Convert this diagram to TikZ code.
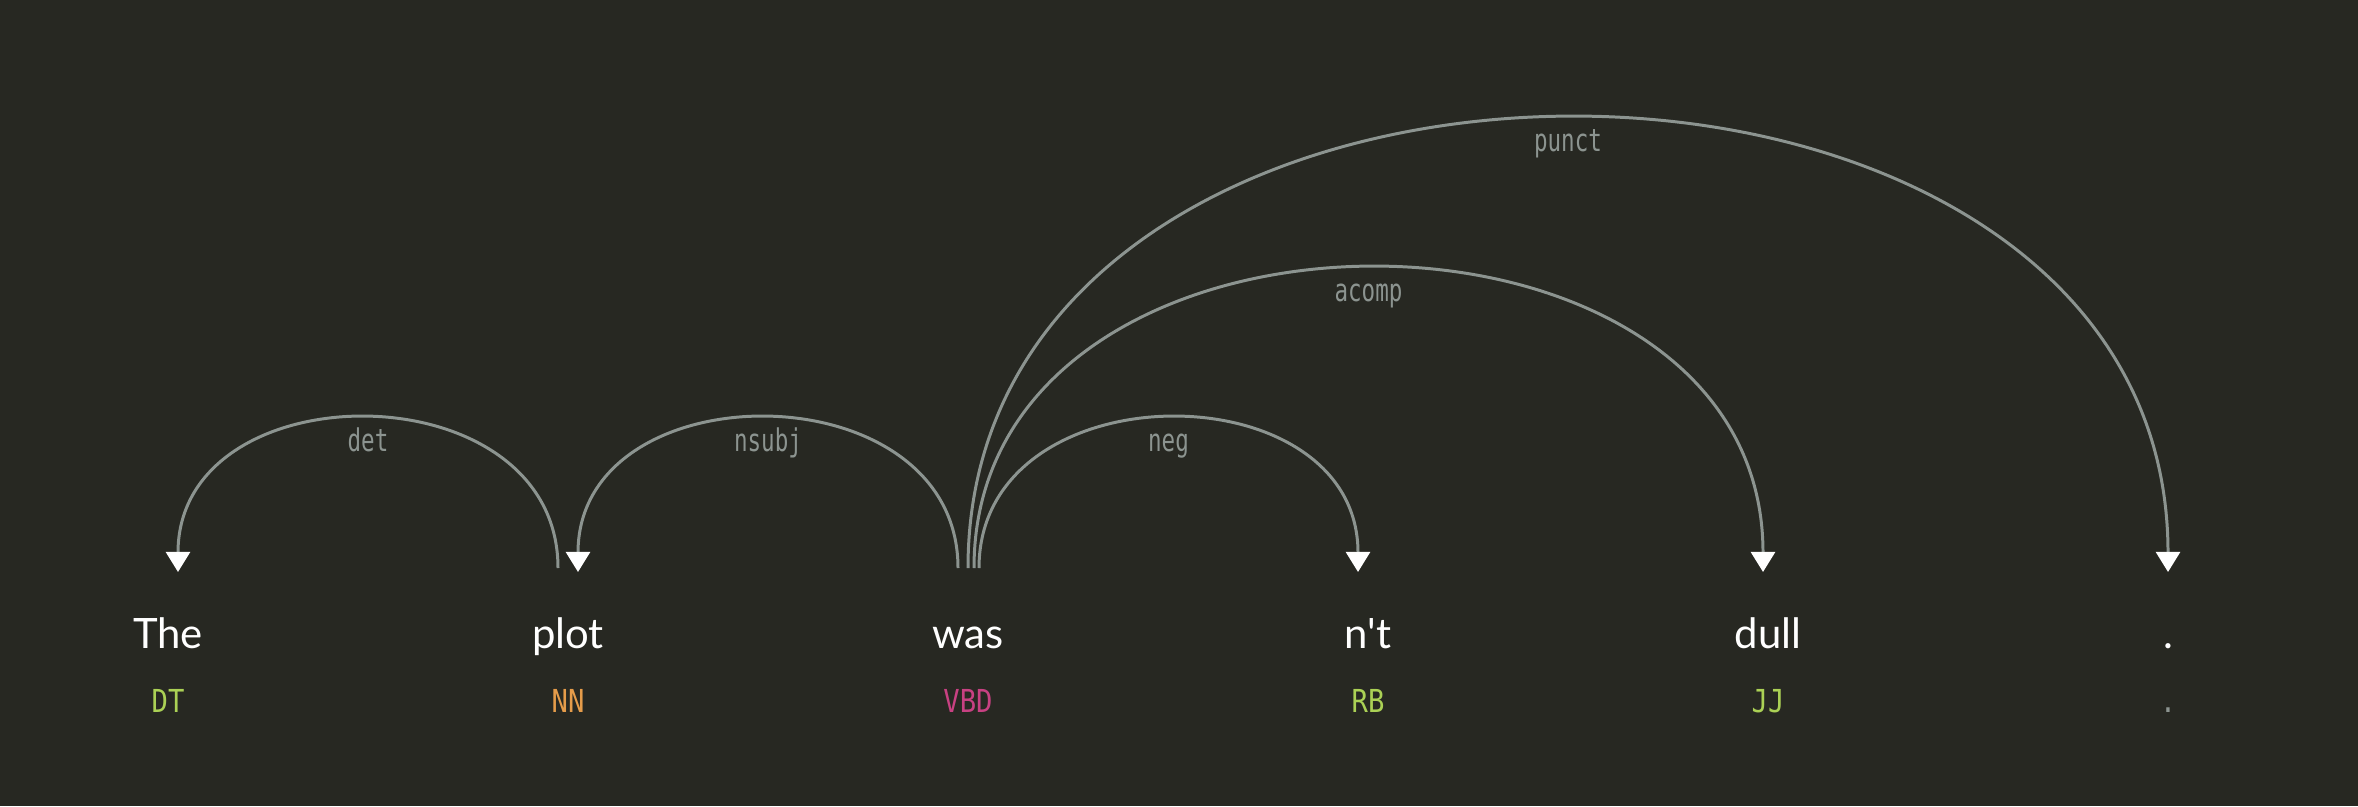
\documentclass[tikz,border=0pt]{standalone}
\usepackage{fontspec}
\newfontfamily\wordfont{Lato}
\newfontfamily\tagfont[FakeStretch=0.86]{DejaVu Sans Mono}
\newfontfamily\lblfont[FakeStretch=0.72]{DejaVu Sans Mono}
\usetikzlibrary{arrows.meta, calc}
\definecolor{bg}{HTML}{272822}
\definecolor{arccol}{HTML}{8C9490}
\definecolor{green}{HTML}{ABD155}
\definecolor{orange}{HTML}{E59C4A}
\definecolor{pink}{HTML}{C84182}

\begin{document}
\begin{tikzpicture}[x=0.01cm, y=-0.01cm,
    word/.style={anchor=base, inner sep=0pt, text=white, font=\wordfont\fontsize{11.9}{14}\selectfont},
    tag/.style={anchor=base, inner sep=0pt, font=\tagfont\fontsize{9}{11}\selectfont},
    arc/.style={draw=arccol, line width=0.85pt, -{Triangle[length=5.7pt, width=6.8pt, color=white]}},
    lbl/.style={anchor=base, inner sep=0pt, yshift=-3.3mm, text=arccol, font=\lblfont\fontsize{8.9}{10}\selectfont}]
    \path[use as bounding box, fill=bg] (0,0) rectangle (2358,806);

    % Words
    \node[word] (the) at (168,648) {The};
    \node[word] (plot) at (568,648) {plot};
    \node[word] (was) at (968,648) {was};
    \node[word] (nt) at (1368,648) {n't};
    \node[word] (dull) at (1768,648) {dull};
    \node[word] (dot) at (2168,648) {.};

    % Tags
    \node[tag, text=green] (the-tag) at (168,712) {DT};
    \node[tag, text=orange] (plot-tag) at (568,712) {NN};
    \node[tag, text=pink] (was-tag) at (968,712) {VBD};
    \node[tag, text=green] (nt-tag) at (1368,712) {RB};
    \node[tag, text=green] (dull-tag) at (1768,712) {JJ};
    \node[tag, text=arccol] (dot-tag) at (2168,712) {.};

    % Arc ends
    \coordinate (det-s) at ($(plot.base)+(-10,-80)$);
    \coordinate (det-e) at ($(the.base)+(10,-76)$);
    \coordinate (nsubj-s) at ($(was.base)+(-10,-80)$);
    \coordinate (nsubj-e) at ($(plot.base)+(10,-76)$);
    \coordinate (neg-s) at ($(was.base)+(11,-80)$);
    \coordinate (neg-e) at ($(nt.base)+(-10,-76)$);
    \coordinate (acomp-s) at ($(was.base)+(6,-80)$);
    \coordinate (acomp-e) at ($(dull.base)+(-5,-76)$);
    \coordinate (punct-s) at ($(was.base)+(0,-80)$);
    \coordinate (punct-e) at ($(dot.base)+(0,-76)$);

    % Arcs
    \draw[arc] (det-s) .. controls +(0,-200) and +(0,-204) .. node[lbl] {det} (det-e);
    \draw[arc] (nsubj-s) .. controls +(0,-200) and +(0,-204) .. node[lbl] {nsubj} (nsubj-e);
    \draw[arc] (neg-s) .. controls +(0,-200) and +(0,-204) .. node[lbl] {neg} (neg-e);
    \draw[arc] (acomp-s) .. controls +(0,-400) and +(0,-404) .. node[lbl] {acomp} (acomp-e);
    \draw[arc] (punct-s) .. controls +(0,-600) and +(0,-604) .. node[lbl] {punct} (punct-e);
\end{tikzpicture}
\end{document}
